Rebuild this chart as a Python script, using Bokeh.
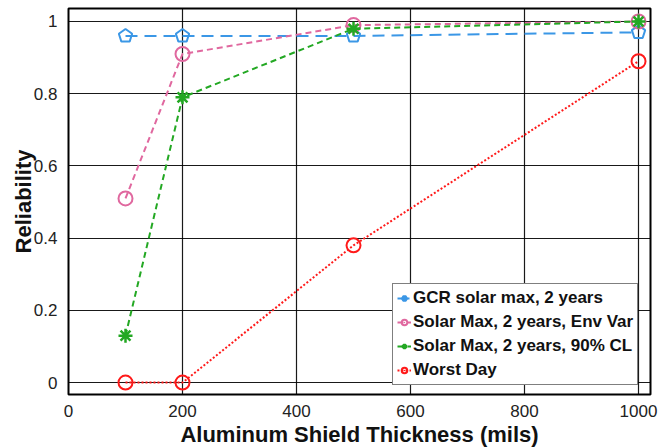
import numpy as np
from bokeh.plotting import figure
from bokeh.models import Range1d, FixedTicker, Legend, LegendItem
from bokeh.embed import file_html
from bokeh.resources import INLINE

thickness = [100, 200, 500, 1000]
gcr = [0.96, 0.96, 0.96, 0.97]
env_var = [0.51, 0.91, 0.99, 1.0]
cl90 = [0.13, 0.79, 0.98, 1.0]
worst_day = [0.0, 0.0, 0.38, 0.89]
x_ticks = [0, 200, 400, 600, 800, 1000]
y_ticks = [0, 0.2, 0.4, 0.6, 0.8, 1]
labels = ["GCR solar max, 2 years", "Solar Max, 2 years, Env Var",
          "Solar Max, 2 years, 90% CL", "Worst Day"]

BLUE = "#3b97e6"
PINK = "#e0689f"
GREEN = "#23a823"
RED = "#ff1a1a"

p = figure(frame_width=582, frame_height=386, output_backend="svg", toolbar_location=None,
           x_range=Range1d(0, 1021), y_range=Range1d(-0.033, 1.036),
           min_border_left=68, min_border_right=9, min_border_top=8, min_border_bottom=0)

p.outline_line_color = "black"
p.outline_line_width = 2
p.background_fill_color = "white"
p.border_fill_color = "white"

for ax in (p.xaxis[0], p.yaxis[0]):
    ax.major_tick_line_color = None
    ax.minor_tick_line_color = None
    ax.axis_line_color = None
    ax.major_label_text_font = "Liberation Sans"
    ax.major_label_text_font_size = "17px"
    ax.major_label_text_color = "#222222"
    ax.axis_label_text_font = "Liberation Sans"
    ax.axis_label_text_font_size = "22px"
    ax.axis_label_text_font_style = "bold"
    ax.axis_label_text_color = "#111111"

p.xaxis.ticker = FixedTicker(ticks=x_ticks)
p.yaxis.ticker = FixedTicker(ticks=y_ticks)
p.yaxis.major_label_overrides = {0: "0", 1: "1"}
p.xaxis.axis_label = "Aluminum Shield Thickness (mils)"
p.yaxis.axis_label = "Reliability"
p.xaxis.major_label_standoff = 4
p.yaxis.major_label_standoff = 5
p.xaxis.axis_label_standoff = 2
p.yaxis.axis_label_standoff = -5

p.xgrid.grid_line_color = "black"
p.ygrid.grid_line_color = "black"
p.xgrid.grid_line_width = 1.2
p.ygrid.grid_line_width = 1.2
p.xgrid.grid_line_alpha = 0.9
p.ygrid.grid_line_alpha = 0.9

l1 = p.line(thickness, gcr, line_color=BLUE, line_width=2, line_dash="12 7")
m1 = p.ngon(thickness, gcr, radius=7, n=5, radius_units="screen", angle=0,
            fill_color=None, line_color=BLUE, line_width=2)
l2 = p.line(thickness, env_var, line_color=PINK, line_width=2, line_dash="6 4")
m2 = p.scatter(thickness, env_var, marker="circle", size=14, fill_color=None,
               line_color=PINK, line_width=2)
l3 = p.line(thickness, cl90, line_color=GREEN, line_width=2, line_dash="6 4")
m3 = p.scatter(thickness, cl90, marker="asterisk", size=14, line_color=GREEN, line_width=2.5)
l4 = p.line(thickness, worst_day, line_color=RED, line_width=2, line_dash="2 2")
m4 = p.scatter(thickness, worst_day, marker="circle", size=14, fill_color=None,
               line_color=RED, line_width=2)

# legend-only marker renderers (zero size on the plot; legend draws its own size)
lg1 = p.scatter(thickness, gcr, marker="hex", size=0, fill_color=BLUE, line_color=BLUE,
                line_width=1.5)
lg2 = p.scatter(thickness, env_var, marker="circle_dot", size=0, fill_color=None,
                line_color=PINK, line_width=2)
lg3 = p.scatter(thickness, cl90, marker="asterisk", size=0, line_color=GREEN, line_width=2.5)
lg4 = p.scatter(thickness, worst_day, marker="circle_dot", size=0, fill_color=None,
                line_color=RED, line_width=2)

legend = Legend(items=[LegendItem(label=labels[0], renderers=[l1, lg1]),
                       LegendItem(label=labels[1], renderers=[l2, lg2]),
                       LegendItem(label=labels[2], renderers=[l3, lg3]),
                       LegendItem(label=labels[3], renderers=[l4, lg4])],
                location=(324, 9))
legend.label_text_font = "Liberation Sans"
legend.label_text_font_size = "17px"
legend.label_text_font_style = "bold"
legend.label_text_color = "#111111"
legend.glyph_width = 14
legend.glyph_height = 20
legend.label_height = 20
legend.label_standoff = 2
legend.spacing = 4
legend.padding = 4
legend.margin = 0
legend.border_line_color = "black"
legend.border_line_width = 1.5
legend.background_fill_alpha = 1
p.add_layout(legend)

open("out.html", "w").write(file_html(p, INLINE))
